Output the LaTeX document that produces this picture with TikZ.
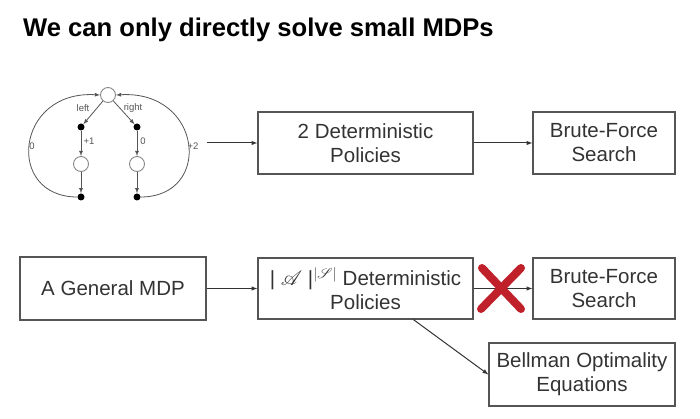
\documentclass[tikz,border=0pt]{standalone}
\usepackage{fontspec}
\setmainfont{Liberation Sans}
\usepackage{mathrsfs}
\usetikzlibrary{positioning}

\definecolor{ink}{HTML}{333333}
\definecolor{frame}{HTML}{555555}
\definecolor{cross}{HTML}{C0202A}

\tikzset{
    box/.style={draw=frame, line width=1.3pt, text=ink, align=center,
        font=\fontsize{20.5}{24}\selectfont, inner sep=0pt},
    flow/.style={-latex, line width=1pt, draw=ink},
    state/.style={draw=frame!70, fill=white, circle, line width=0.9pt,
        minimum size=15pt, inner sep=0pt},
    act/.style={fill=black, circle, minimum size=7pt, inner sep=0pt},
    edge/.style={-latex, line width=0.8pt, draw=frame},
    lbl/.style={text=frame, font=\fontsize{9.5}{11}\selectfont, inner sep=1pt},
}

\begin{document}
\begin{tikzpicture}[x=1pt, y=-1pt]
    \useasboundingbox (0,0) rectangle (700,419);

    % Title
    \node[anchor=base west, inner sep=0pt, font=\bfseries\fontsize{25.6}{30}\selectfont]
        (title) at (23,37) {We can only directly solve small MDPs};

    % Small MDP: states
    \node[state] (s0) at (108,95) {};
    \node[state] (s1) at (81,164) {};
    \node[state] (s2) at (137,164) {};

    % Small MDP: action and end points
    \node[act] (a1) at (81,127) {};
    \node[act] (a2) at (137,127) {};
    \node[act] (t1) at (81,197) {};
    \node[act] (t2) at (137,197) {};

    % Small MDP: transitions
    \draw[edge] (s0) -- (a1);
    \draw[edge] (s0) -- (a2);
    \draw[edge] (a1) -- (s1);
    \draw[edge] (a2) -- (s2);
    \draw[edge] (s1) -- (t1);
    \draw[edge] (s2) -- (t2);
    \draw[edge] (t1) .. controls (5,197) and (15,90) .. (s0.west);
    \draw[edge] (t2) .. controls (213,197) and (203,90) .. (s0.east);

    % Small MDP: labels
    \node[lbl] (ll) at (83,108) {left};
    \node[lbl] (lr) at (133,108) {right};
    \node[lbl] (r1) at (89,141) {+1};
    \node[lbl] (r2) at (143,141) {0};
    \node[lbl] (r0) at (32,146) {0};
    \node[lbl] (r3) at (193,146) {+2};
    \coordinate (small) at (207,143);

    % Boxes, upper row
    \node[box, minimum width=215pt, minimum height=62pt] (det2) at (365.5,143)
        {2 Deterministic\\Policies};
    \node[box, minimum width=142pt, minimum height=62pt] (bf1) at (604,143)
        {Brute-Force\\Search};

    % Boxes, lower row
    \node[box, minimum width=186pt, minimum height=63pt] (mdp) at (113,288.5)
        {A General MDP};
    \node[box, minimum width=215pt, minimum height=61pt] (detn) at (365.5,288.5)
        {| $\mathscr{A}$ |$^{|\mathscr{S}|}$ Deterministic\\Policies};
    \node[box, minimum width=142pt, minimum height=61pt] (bf2) at (604,288.5)
        {Brute-Force\\Search};
    \node[box, minimum width=186pt, minimum height=63pt] (bell) at (582,374.5)
        {Bellman Optimality\\Equations};

    % Arrows
    \draw[flow] (small) -- (det2);
    \draw[flow] (det2) -- (bf1);
    \draw[flow] (mdp) -- (detn);
    \draw[flow] (detn) -- (bf2);
    \draw[flow] (detn.-33) -- (bell.west);

    % Red cross
    \draw[cross, line width=8pt, line cap=round] (482,268) -- (521,309);
    \draw[cross, line width=8pt, line cap=round] (521,268) -- (481,309);
\end{tikzpicture}
\end{document}
